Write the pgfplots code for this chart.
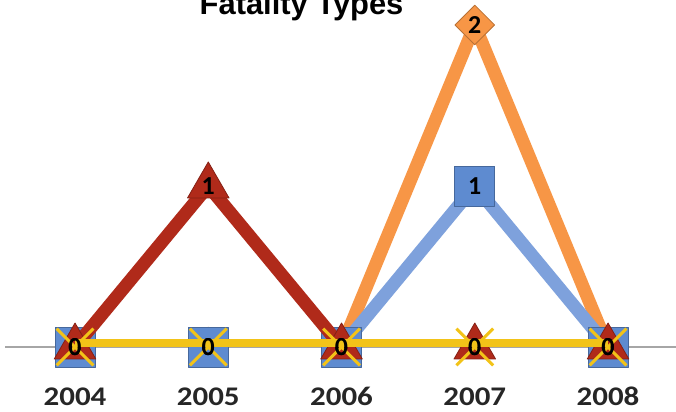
\documentclass[border=0pt]{standalone}
\usepackage{fontspec}
\setmainfont{Carlito}
\newfontfamily\titlefont{Liberation Sans}
\newfontfamily\tickfont[FakeStretch=1.15]{Carlito}
\usepackage{pgfplots}
\pgfplotsset{compat=1.18}
\definecolor{orng}{HTML}{F79646}
\definecolor{blu}{HTML}{7EA1DC}
\definecolor{blumark}{HTML}{5E8BD0}
\definecolor{rd}{HTML}{B02A1A}
\definecolor{ylw}{HTML}{F2C318}
\begin{document}
\begin{tikzpicture}
\useasboundingbox (0,0) rectangle (676bp,412bp);
\draw[gray!70, line width=1.2bp] (5bp,65bp) -- (676bp,65bp);
\begin{axis}[
  at={(0,65bp)}, anchor=south west,
  scale only axis, width=676bp, height=347bp,
  xmin=-0.563, xmax=4.51, ymin=0, ymax=2.155,
  clip mode=individual,
  axis y line=none,
  axis x line=bottom,
  x axis line style={draw=none},
  xtick={0,1,2,3,4},
  xticklabels={2004,2005,2006,2007,2008},
  major tick length=0pt,
  xticklabel style={font=\tickfont\bfseries\fontsize{27}{27}\selectfont, text=black!85, anchor=base, yshift=-58bp},
  ytick=\empty,
  nodes near coords={\pgfmathprintnumber[assume math mode=true]{\pgfplotspointmeta}},
  every node near coord/.style={anchor=center, font=\bfseries\fontsize{26}{26}\selectfont, text=black},
]
\addplot[orng, line width=13bp, line join=round, mark=square*, mark size=14bp,
  mark options={rotate=45, fill=orng, draw=orng!75!black, line width=0.8bp}]
  coordinates {(0,0) (1,0) (2,0) (3,2) (4,0)};
\addplot[blu, line width=13bp, line join=round, mark=square*, mark size=20bp,
  mark options={fill=blumark, draw=blumark!75!black, line width=0.8bp}]
  coordinates {(0,0) (1,0) (2,0) (3,1) (4,0)};
\addplot[rd, line width=13bp, line join=round, mark=triangle*, mark size=24bp,
  mark options={fill=rd, draw=rd!75!black, line width=0.8bp}]
  coordinates {(0,0) (1,1) (2,0) (3,0) (4,0)};
\addplot[ylw, line width=15bp, mark=x, mark size=26bp,
  mark options={draw=ylw, line width=3bp}]
  coordinates {(0,0) (1,0) (2,0) (3,0) (4,0)};
\node[font=\titlefont\bfseries\fontsize{31}{31}\selectfont, anchor=base, text=black] at (axis cs:1.70,2.062) {Fatality Types};
\end{axis}
\end{tikzpicture}
\end{document}
